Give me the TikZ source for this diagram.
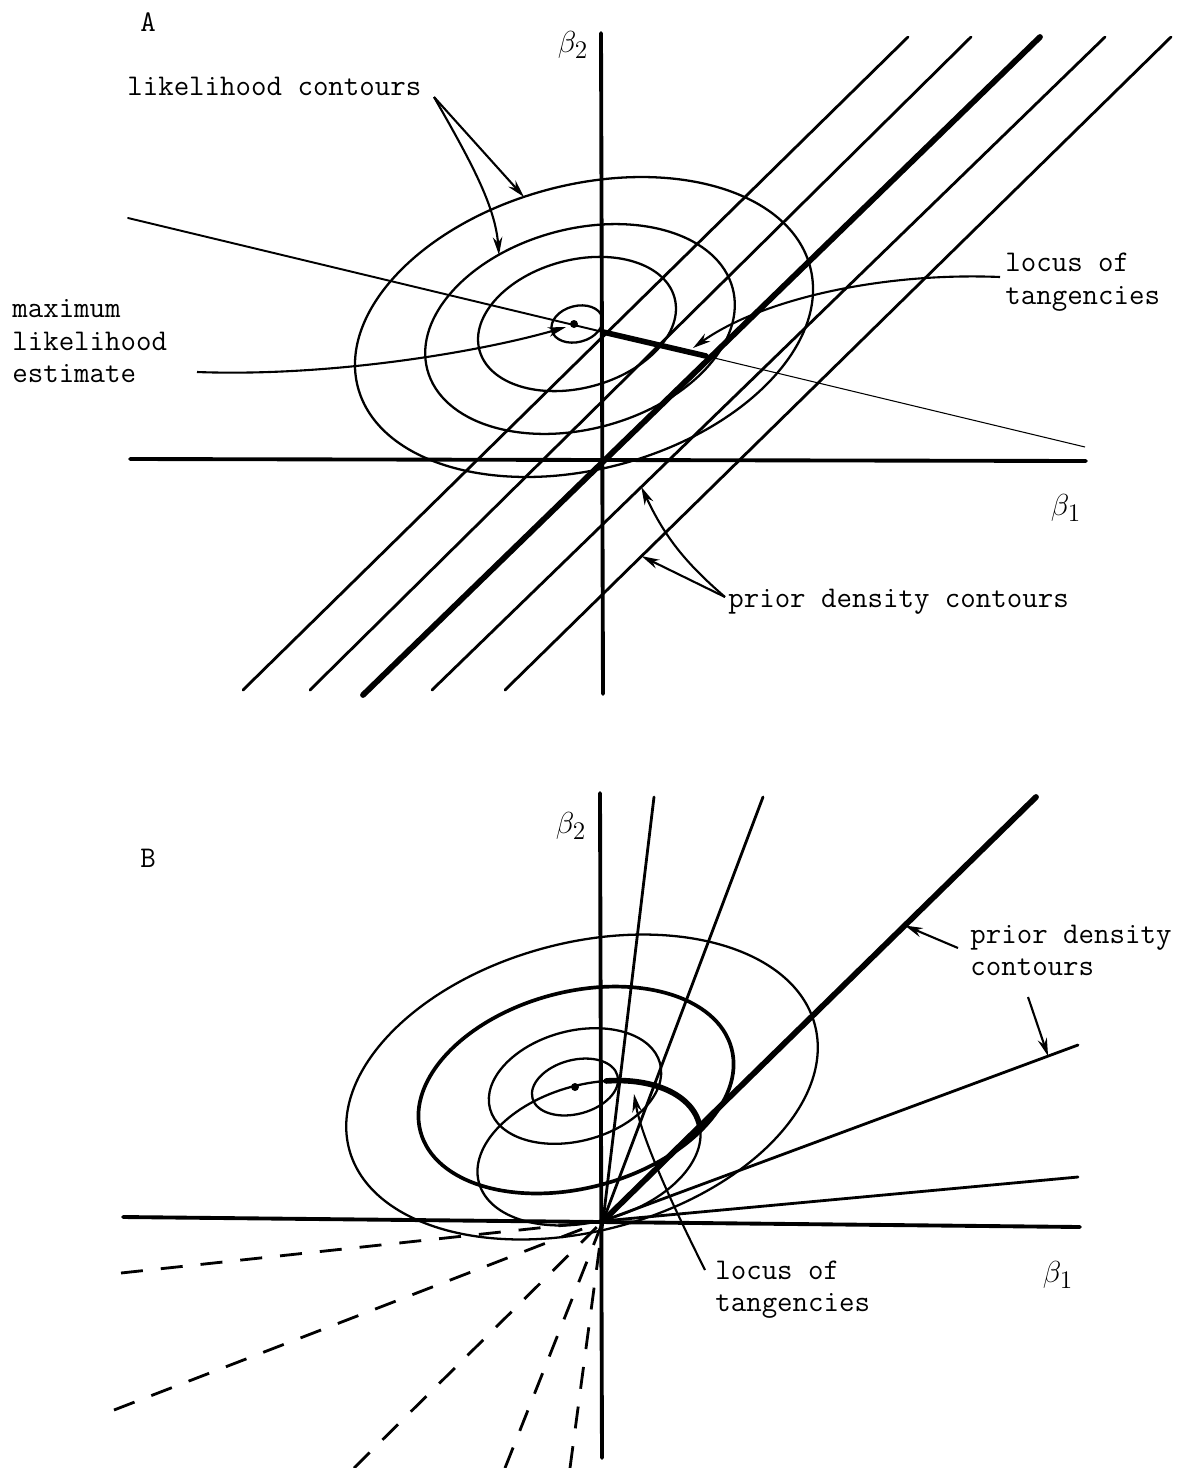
\documentclass[tikz,border=0pt]{standalone}
\usetikzlibrary{arrows.meta,calc}
\begin{document}
\begin{tikzpicture}[x=0.02cm,y=-0.02cm,
  axis/.style={line width=2.2pt, line cap=round},
  prior/.style={line width=1.6pt, line cap=round},
  priorthick/.style={line width=3.3pt, line cap=round},
  lik/.style={line width=1.3pt},
  likthick/.style={line width=2.1pt},
  ptr/.style={line width=1.2pt, -{Stealth[length=3.6mm,width=1.9mm]}},
  lbl/.style={font=\fontsize{17.1}{18.4}\selectfont\ttfamily, inner sep=0pt, anchor=base west},
  blbl/.style={font=\fontsize{19}{22}\selectfont, inner sep=0pt},
  dashray/.style={line width=1.6pt, dash pattern=on 0.44cm off 0.36cm}]
\fill[white] (0,0) rectangle (1187,1468);
\useasboundingbox (0,0) rectangle (1187,1468);

% ================= Panel A =================
\node[lbl] (labA) at (140,31) {A};
\node[blbl] (b2A) at (573,45) {$\beta_2$};
\node[blbl] (b1A) at (1066,508) {$\beta_1$};

\coordinate (OA) at (603,460);
\draw[axis] (601,33) -- (603,694);
\draw[axis] (130,459) -- (1086,461);

% prior density contours (parallel lines)
\coordinate (L1a) at (243,690); \coordinate (L1b) at (908,37);
\coordinate (L2a) at (310,690); \coordinate (L2b) at (971,37);
\coordinate (L3a) at (363,695); \coordinate (L3b) at (1040,37);
\coordinate (L4a) at (432,690); \coordinate (L4b) at (1105,37);
\coordinate (L5a) at (505,690); \coordinate (L5b) at (1171,37);
\draw[prior] (L1a) -- (L1b);
\draw[prior] (L2a) -- (L2b);
\draw[priorthick] (L3a) -- (L3b);
\draw[prior] (L4a) -- (L4b);
\draw[prior] (L5a) -- (L5b);

% likelihood contours
\coordinate (eA0) at (577,324);
\coordinate (eA2) at (580,329);
\coordinate (eA3) at (584,327);
\draw[lik, rotate around={15:(eA0)}] (eA0) ellipse [x radius=26, y radius=18];
\draw[lik, rotate around={15:(eA0)}] (eA0) ellipse [x radius=101, y radius=64];
\draw[lik, rotate around={15:(eA2)}] (eA2) ellipse [x radius=158, y radius=100];
\draw[lik, rotate around={15:(eA3)}] (eA3) ellipse [x radius=234, y radius=142];

% locus of tangencies (straight line through the MLE)
\coordinate (MA) at (574,324);
\coordinate (LA1) at (128,218);
\coordinate (TA1) at (603,332);
\coordinate (TA2) at (706,356);
\coordinate (LA2) at (1085,447);
\draw[line width=1.1pt, line cap=round] (LA1) -- (TA1);
\draw[line width=3.2pt, line cap=round] (TA1) -- (TA2);
\draw[line width=0.6pt] (TA2) -- (LA2);
\fill (MA) circle [radius=4];

% labels and pointers
\node[lbl] (likA) at (127,95) {likelihood contours};
\coordinate (likS) at (434,97);
\coordinate (likT1) at (524,197);
\coordinate (likT2) at (499,255);
\draw[ptr] (likS) -- (likT1);
\draw[ptr] (likS) .. controls (470,160) and (495,205) .. (likT2);

\node[lbl] (mle1) at (12,317) {maximum};
\node[lbl] (mle2) at (12,350) {likelihood};
\node[lbl] (mle3) at (12,382) {estimate};
\coordinate (mleS) at (197,372);
\draw[ptr] (mleS) .. controls (330,377) and (480,352) .. (566,327);

\node[lbl] (locA1) at (1005,271) {locus of};
\node[lbl] (locA2) at (1005,304) {tangencies};
\coordinate (locAS) at (1000,277);
\draw[ptr] (locAS) .. controls (880,272) and (760,300) .. (693,348);

\node[lbl] (priA) at (728,607) {prior density contours};
\coordinate (priAS) at (725,597);
\draw[ptr] (priAS) to[bend left=12] ($(L4a)!0.311!(L4b)$);
\draw[ptr] (priAS) -- ($(L5a)!0.205!(L5b)$);

% ================= Panel B =================
\node[lbl] (labB) at (140,867) {B};
\node[blbl] (b2B) at (571,826) {$\beta_2$};
\node[blbl] (b1B) at (1058,1275) {$\beta_1$};

\coordinate (OB) at (603,1221);
\draw[axis] (600,793) -- (602,1458);
\draw[axis] (123,1217) -- (1080,1227);

% prior density contours (rays)
\coordinate (R1) at (654,797);
\coordinate (R2) at (763,797);
\coordinate (R3) at (1036,797);
\coordinate (R4) at (1078,1045);
\coordinate (R5) at (1078,1177);
\draw[prior] (OB) -- (R1);
\draw[prior] (OB) -- (R2);
\draw[priorthick] (OB) -- (R3);
\draw[prior] (OB) -- (R4);
\draw[prior] (OB) -- (R5);

\coordinate (D1) at (121,1273);
\coordinate (D2) at (114,1410);
\coordinate (D3) at (354,1468);
\coordinate (D4) at (505,1468);
\coordinate (D5) at (570,1468);
\draw[dashray] (D1) -- (OB);
\draw[dashray] (D2) -- (OB);
\draw[dashray] (D3) -- (OB);
\draw[dashray] (D4) -- (OB);
\draw[dashray] (D5) -- (OB);

% likelihood contours
\coordinate (eB0) at (575,1087);
\coordinate (eB1) at (575,1086);
\coordinate (eB2) at (576,1090);
\coordinate (eB3) at (582,1087);
\draw[lik, rotate around={15:(eB0)}] (eB0) ellipse [x radius=44, y radius=27];
\draw[lik, rotate around={15:(eB1)}] (eB1) ellipse [x radius=88, y radius=55];
\draw[likthick, rotate around={15:(eB2)}] (eB2) ellipse [x radius=161, y radius=98];
\draw[lik, rotate around={15:(eB3)}] (eB3) ellipse [x radius=241, y radius=144];

% locus of tangencies (ellipse through origin and MLE)
\coordinate (eL) at (589,1153);
\draw[lik, rotate around={15:(eL)}] (eL) ellipse [x radius=114, y radius=68.5];
\draw[line width=3.2pt, line cap=round] plot[domain=-3:72, samples=50]
  ({589+114*cos(\x)*cos(15)-68.5*sin(\x)*sin(15)},
   {1153-114*cos(\x)*sin(15)-68.5*sin(\x)*cos(15)});
\coordinate (MB) at (575,1087);
\fill (MB) circle [radius=4];

% labels and pointers
\node[lbl] (priB1) at (970,943) {prior density};
\node[lbl] (priB2) at (970,975) {contours};
\draw[ptr] (958,948) -- ($(OB)!0.697!(R3)$);
\draw[ptr] (1028,997) -- ($(OB)!0.937!(R4)$);

\node[lbl] (locB1) at (715,1279) {locus of};
\node[lbl] (locB2) at (715,1311) {tangencies};
\coordinate (locBS) at (705,1270);
\draw[ptr] (locBS) .. controls (675,1210) and (642,1140) .. (634,1094);
\end{tikzpicture}
\end{document}
